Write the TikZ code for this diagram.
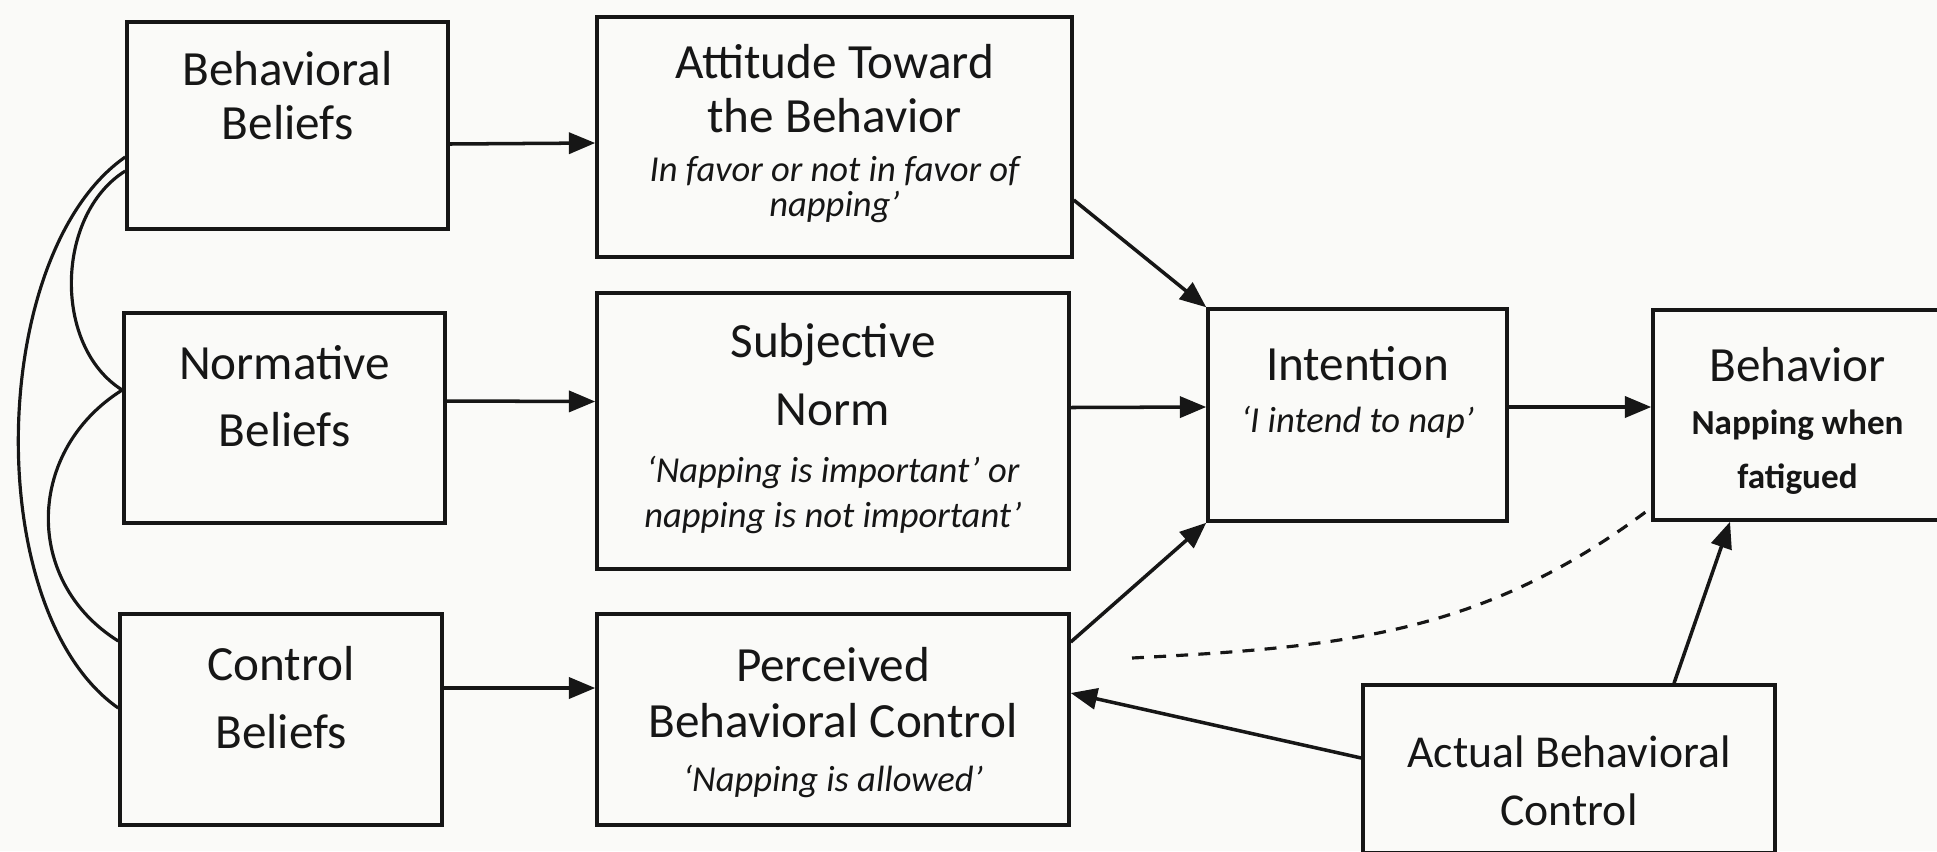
\documentclass[tikz,border=0pt]{standalone}
\usepackage{fontspec}
\setmainfont{Carlito}
\usetikzlibrary{arrows.meta}

\definecolor{paper}{RGB}{250,250,248}
\definecolor{ink}{RGB}{22,22,22}

\newcommand{\note}[1]{{\fontsize{10.4}{15.6}\selectfont\itshape #1}}
\newcommand{\behnote}[1]{{\fontsize{10}{15.6}\selectfont\bfseries #1}}

\begin{document}
\begin{tikzpicture}[%
          box/.style={draw=ink, line width=1pt, fill=paper, inner sep=0pt,
                      align=flush center, text=ink, font=\fontsize{14}{15.6}\selectfont},
          arr/.style={draw=ink, line width=1pt, -{Triangle[length=7.5pt,width=6pt]}},
          link/.style={draw=ink, line width=0.9pt}]

  \fill[paper] (0,0) rectangle (19.37,-8.51);
  \useasboundingbox (0,0) rectangle (19.37,-8.51);

  % beliefs
  \node[box, text width=3.21cm, text height=6.3mm, text depth=14.4mm] (bb) at (2.875,-1.255)
       {Behavioral\\Beliefs};
  \node[box, text width=3.21cm, text height=6.6mm, text depth=14.4mm] (nb) at (2.845,-4.18)
       {Normative\\[3.7pt]Beliefs};
  \node[box, text width=3.22cm, text height=6.6mm, text depth=14.5mm] (cb) at (2.81,-7.195)
       {Control\\[4pt]Beliefs};

  % middle column
  \node[box, text width=4.75cm, text height=6.1mm, text depth=17.9mm] (att) at (8.345,-1.37)
       {Attitude Toward\\the Behavior\\[-1.7pt]\note{In favor or not in favor of\\[-5.6pt]napping’}};
  \node[box, text width=4.72cm, text height=6.4mm, text depth=21.2mm] (sn) at (8.33,-4.31)
       {Subjective\\[3.9pt]Norm\\[0.6pt]\note{‘Napping is important’ or\\[-2.8pt]napping is not important’}};
  \node[box, text width=4.72cm, text height=6.7mm, text depth=14.4mm] (pbc) at (8.33,-7.195)
       {Perceived\\[0.6pt]Behavioral Control\\[-0.5pt]\note{‘Napping is allowed’}};

  % right side
  \node[box, text width=2.99cm, text height=7.1mm, text depth=14.1mm] (int) at (13.575,-4.15)
       {Intention\\[-0.8pt]\note{‘I intend to nap’}};
  \node[box, text width=2.89cm, text height=7.1mm, text depth=13.9mm] (beh) at (17.975,-4.15)
       {Behavior\\[-0.5pt]\behnote{Napping when\\[-0.1pt]fatigued}};
  \node[box, text width=4.12cm, text height=8.2mm, text depth=8.6mm,
        font=\fontsize{13}{15.6}\selectfont] (abc) at (15.69,-7.69)
       {Actual Behavioral\\[0.9pt]Control};

  \coordinate (pbcfree) at (11.32,-6.58);

  % links between the beliefs
  \draw[link] ([yshift=-3.15mm]bb.west) to[out=215,in=145,looseness=0.78] ([yshift=1.15mm]cb.west);
  \draw[link] ([yshift=-4.55mm]bb.west) to[out=212,in=148,looseness=0.96] ([yshift=2.8mm]nb.west);
  \draw[link] ([yshift=2.8mm]nb.west) to[out=212,in=148,looseness=1.15] ([yshift=7.85mm]cb.west);

  \draw[arr] ([yshift=-1.85mm]bb.east) -- ([yshift=-0.6mm]att.west);
  \draw[arr] ([yshift=1.7mm]nb.east) -- ([yshift=2.95mm]sn.west);
  \draw[arr] ([yshift=3.15mm]cb.east) -- ([yshift=3.15mm]pbc.west);

  \draw[arr] ([yshift=-6.3mm]att.east) -- (int.north west);
  \draw[arr] ([yshift=2.35mm]sn.east) -- ([yshift=0.8mm]int.west);
  \draw[arr] ([yshift=7.75mm]pbc.east) -- (int.south west);
  \draw[arr] ([yshift=0.8mm]int.east) -- ([yshift=0.8mm]beh.west);

  \draw[arr] ([yshift=1.1mm]abc.west) -- ([yshift=2.65mm]pbc.east);
  \draw[arr] ([xshift=10.5mm]abc.north) -- ([xshift=-6.75mm]beh.south);
  \draw[link, dash pattern=on 3.4pt off 2.9pt] (pbcfree) to[out=3,in=217] ([yshift=1.4mm]beh.south west);

\end{tikzpicture}
\end{document}
